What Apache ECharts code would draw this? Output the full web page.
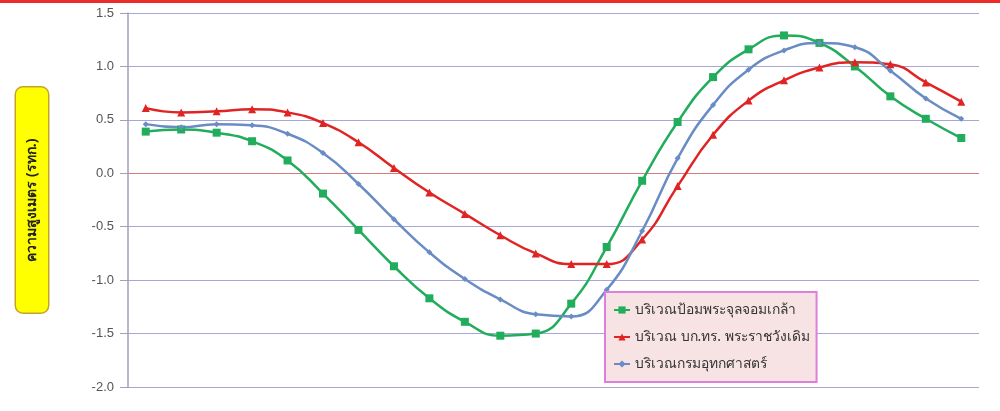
<!DOCTYPE html>
<html><head><meta charset="utf-8">
<script src="https://cdn.jsdelivr.net/npm/echarts@6/dist/echarts.min.js"></script>
<style>html,body{margin:0;padding:0;background:#fff}#c{width:1000px;height:411px}</style>
</head><body><div id="c"></div>
<script>
const categories = ['0','1','2','3','4','5','6','7','8','9','10','11','12','13','14','15','16','17','18','19','20','21','22','23'];
const seriesNames = ['บริเวณป้อมพระจุลจอมเกล้า','บริเวณ บก.ทร. พระราชวังเดิม','บริเวณกรมอุทกศาสตร์'];
const greenValues = [0.39,0.41,0.38,0.30,0.12,-0.19,-0.53,-0.87,-1.17,-1.39,-1.52,-1.50,-1.22,-0.69,-0.07,0.48,0.90,1.16,1.29,1.22,1.00,0.72,0.51,0.33];
const redValues = [0.61,0.57,0.58,0.60,0.57,0.47,0.29,0.05,-0.18,-0.38,-0.58,-0.75,-0.85,-0.85,-0.62,-0.12,0.36,0.68,0.87,0.99,1.04,1.02,0.85,0.67];
const blueValues = [0.46,0.43,0.46,0.45,0.37,0.19,-0.10,-0.43,-0.74,-0.99,-1.18,-1.32,-1.34,-1.09,-0.54,0.14,0.64,0.97,1.15,1.22,1.18,0.96,0.70,0.51];
const yAxisTitle = 'ความสูงเมตร (รทก.)';

const chart = echarts.init(document.getElementById('c'));
const gridCol = '#a6a6da';
chart.setOption({
  animation: false,
  backgroundColor: '#ffffff',
  graphic: [{type:'rect', left:0, top:0, shape:{width:1000, height:3}, style:{fill:'#ee2b2b'}}],
  grid: {left:128, right:21, top:13, bottom:24},
  xAxis: {type:'category', data:categories, boundaryGap:true,
    axisLine:{show:false}, axisTick:{show:false}, axisLabel:{show:false}},
  yAxis: {type:'value', min:-2, max:1.5, interval:0.5,
    name: yAxisTitle, nameLocation:'middle', nameRotate:90, nameGap:80,
    nameTextStyle:{fontFamily:'Noto Sans, sans-serif', fontSize:14, fontWeight:'bold', color:'#222',
      backgroundColor:'#ffff00', borderColor:'#c9a227', borderWidth:1.5, borderRadius:7,
      padding:[9, 51, 9, 51]},
    axisLine:{show:true, lineStyle:{color:'#a0a0b8', width:1.5}},
    axisTick:{show:true, inside:false, length:8, lineStyle:{color:'#a0a0b8'}},
    axisLabel:{formatter: v => v.toFixed(1), color:'#555', fontSize:13, margin:14, fontFamily:'Liberation Sans Narrow, Liberation Sans, sans-serif'},
    splitLine:{show:true, lineStyle:{width:1.2, color:[gridCol,gridCol,gridCol,gridCol,'#d77a7a',gridCol,gridCol,gridCol]}}
  },
  legend: {orient:'vertical', left:605, top:292,
    backgroundColor:'#f7e3e3', borderColor:'#dd7fdd', borderWidth:2,
    padding:[11, 7, 11, 8], itemGap:13, itemWidth:16, itemHeight:9,
    textStyle:{fontSize:13.8, color:'#333', fontFamily:'Noto Sans, sans-serif'},
    data: seriesNames},
  series: [
    {name:seriesNames[0], type:'line', smooth:true, data:greenValues, color:'#22ad5c',
      symbol:'rect', symbolSize:8, lineStyle:{width:2.5}},
    {name:seriesNames[1], type:'line', smooth:true, data:redValues, color:'#e02424',
      symbol:'triangle', symbolSize:8, lineStyle:{width:2.5}},
    {name:seriesNames[2], type:'line', smooth:true, data:blueValues, color:'#6a8cc4',
      symbol:'diamond', symbolSize:6, lineStyle:{width:2.5}}
  ]
});
</script></body></html>
